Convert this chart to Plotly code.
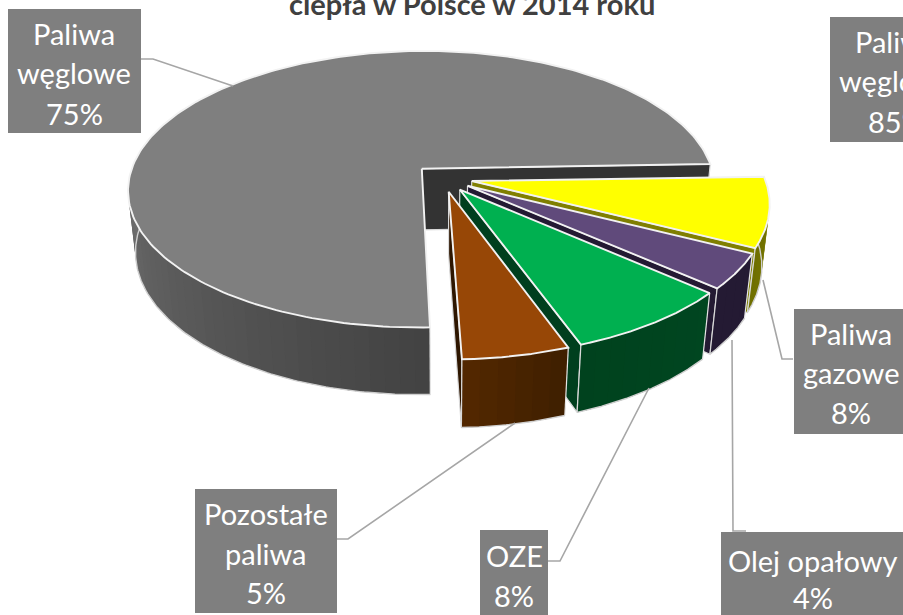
import numpy as np
import plotly.graph_objects as go

# Shares of heat-production fuels, percent, clockwise from the first slice
categories = ["Paliwa węglowe", "Paliwa gazowe", "Olej opałowy", "OZE", "Pozostałe paliwa"]
values = [75, 8, 4, 8, 5]
title_text = "ciepła w Polsce w 2014 roku"

# Styles per slice: top face, radial wall, outer rim at its two ends
top_colors = ["#7f7f7f", "#ffff00", "#604a7b", "#00b050", "#974706"]
wall_colors = ["#333333", "#7f7f00", "#241a33", "#003f1e", "#2e1600"]
rim_from = [(66, 66, 66), (127, 127, 0), (36, 26, 51), (0, 70, 32), (62, 31, 0)]
rim_to = [(124, 124, 124), (110, 110, 0), (36, 26, 51), (0, 66, 30), (84, 40, 0)]

# Perspective model of the pie, in page pixels
CX, CY = 443.0, 178.0
RX, RY = 293.0, 138.0
TILT = 0.15
DEPTH_PX = 63.0
DEPTH_SHRINK = 0.024
START_DEG = 178.0
EXPLODE = 0.10
# The large slice wraps behind itself, so its rim stops once hidden by the top face
LARGE_RIM_SWEEP = 122.0
BAND_OVERLAP_DEG = 1.5


def project(u, v, z):
    s = 1.0 / (1.0 - TILT * v + DEPTH_SHRINK * z)
    return CX + RX * u * s, CY + (RY * v + DEPTH_PX * z) * s


def disc(angle_deg, radius, mid_deg):
    a = np.radians(angle_deg)
    m = np.radians(mid_deg)
    return (radius * np.sin(a) + EXPLODE * np.sin(m),
            -radius * np.cos(a) - EXPLODE * np.cos(m))


fig = go.Figure()


def poly(xs, ys, fill, line=None, width=0.0):
    fig.add_trace(go.Scatter(
        x=list(xs) + [xs[0]], y=list(ys) + [ys[0]], mode="lines", fill="toself",
        fillcolor=fill, line=dict(color=line or fill, width=width),
        hoverinfo="skip", showlegend=False))


def open_line(xs, ys, color, width):
    fig.add_trace(go.Scatter(x=list(xs), y=list(ys), mode="lines",
                             line=dict(color=color, width=width),
                             hoverinfo="skip", showlegend=False))


def mix(c0, c1, t):
    return "rgb(%d,%d,%d)" % tuple(round(p + (q - p) * t) for p, q in zip(c0, c1))


def draw_slice(i, a0, a1, rim_a0, rim_a1, close_rim_end=True):
    mid = (a0 + a1) / 2
    # radial wall along the clockwise end of the slice
    end = a1 % 360
    ax_t, ay_t = project(*disc(0, 0, mid), 0)
    ax_b, ay_b = project(*disc(0, 0, mid), 1)
    ex_t, ey_t = project(*disc(end, 1, mid), 0)
    ex_b, ey_b = project(*disc(end, 1, mid), 1)
    poly([ax_t, ex_t, ex_b, ax_b], [ay_t, ey_t, ey_b, ay_b], wall_colors[i], "#d9d9d9", 1.2)

    # outer rim as narrow overlapping bands, shaded along the arc
    edges = np.linspace(rim_a0, rim_a1, max(3, int(abs(rim_a1 - rim_a0) / 2.5)))
    for k in range(len(edges) - 1):
        b0, b1 = edges[k], min(edges[k + 1] + BAND_OVERLAP_DEG, rim_a1)
        sweep = np.linspace(b0, b1, 5)
        tx, ty = project(*disc(sweep, 1, mid), 0)
        bx, by = project(*disc(sweep, 1, mid), 1)
        t = (k + 0.5) / (len(edges) - 1)
        poly(np.r_[tx, bx[::-1]], np.r_[ty, by[::-1]], mix(rim_from[i], rim_to[i], t))
    sweep = np.linspace(rim_a0, rim_a1, 160)
    bx, by = project(*disc(sweep, 1, mid), 1)
    open_line(bx, by, "#cfcfcf", 1.4)
    # rim end edges
    if close_rim_end:
        sx_t, sy_t = project(*disc(rim_a1, 1, mid), 0)
        sx_b, sy_b = project(*disc(rim_a1, 1, mid), 1)
        open_line([sx_t, sx_b], [sy_t, sy_b], "#d9d9d9", 1.2)
    sx_t, sy_t = project(*disc(rim_a0, 1, mid), 0)
    sx_b, sy_b = project(*disc(rim_a0, 1, mid), 1)
    open_line([sx_t, sx_b], [sy_t, sy_b], "#e6e6e6", 1.2)

    # top face
    sweep = np.linspace(a0, a1, 240)
    ox, oy = project(*disc(sweep, 1, mid), 0)
    poly(np.r_[ax_t, ox], np.r_[ay_t, oy], top_colors[i], "#f2f2f2", 1.9)


# Angular extents from the values
shares = np.array(values, dtype=float) / sum(values) * 360.0
starts = START_DEG + np.r_[0, np.cumsum(shares)[:-1]]
ends = starts + shares

# Large slice first: only its lower-left rim can be seen
draw_slice(0, starts[0], ends[0], starts[0], starts[0] + LARGE_RIM_SWEEP, close_rim_end=False)
# Remaining slices run back to front
for i in range(1, len(values)):
    draw_slice(i, starts[i], ends[i], starts[i], ends[i])

# Callout boxes: x0, x1, y0, y1, centre x, line centres, leader polyline
LABEL_GRAY = "#7f7f7f"
LEADER = "#a6a6a6"
labels = [
    (categories[0], values[0], ["Paliwa", "węglowe"], (8, 141, 9, 133), 74,
     (33, 72, 113), ([141, 153, 233], [59, 59, 86])),
    (categories[1], values[1], ["Paliwa", "gazowe"], (794, 909, 309, 434), 851,
     (333, 372, 412), ([793, 782, 763], [359, 359, 280])),
    (categories[2], values[2], ["Olej opałowy"], (721, 903, 532, 615), 813,
     (560, 597), ([746, 733, 732], [531, 531, 340])),
    (categories[3], values[3], ["OZE"], (480, 548, 530, 615), 514,
     (555, 595), ([548, 560, 649], [561, 561, 388])),
    (categories[4], values[4], ["Pozostałe", "paliwa"], (195, 337, 489, 613), 266,
     (513, 553, 592), ([337, 348, 515], [539, 539, 423])),
]

# Partly cut-off callout belonging to the neighbouring chart
other_label = (["Paliwa", "węglowe", "85%"], (830, 965, 17, 142), 896, (41, 80, 121))

shapes = []
annotations = []


def add_box(box, lines, cx, ys):
    x0, x1, y0, y1 = box
    shapes.append(dict(type="rect", xref="x", yref="y", x0=x0, x1=x1, y0=y0, y1=y1,
                       fillcolor=LABEL_GRAY, line=dict(width=0), layer="above"))
    for text, y in zip(lines, ys):
        annotations.append(dict(x=cx, y=y, xref="x", yref="y", text=text, showarrow=False,
                                xanchor="center", yanchor="middle",
                                font=dict(family="Lato", size=29, color="#ffffff")))


for name, value, lines, box, cx, ys, (lx, ly) in labels:
    open_line(lx, ly, LEADER, 1.6)
    add_box(box, lines + [f"{value}%"], cx, ys)
add_box(other_label[1], other_label[0], other_label[2], other_label[3])

annotations.append(dict(x=471.5, y=3, xref="x", yref="y", text=f"<b>{title_text}</b>", showarrow=False,
                        xanchor="center", yanchor="middle",
                        font=dict(family="Lato", size=29, color="#404040")))

fig.update_layout(
    width=903, height=615, margin=dict(l=0, r=0, t=0, b=0),
    paper_bgcolor="#ffffff", plot_bgcolor="#ffffff", showlegend=False,
    xaxis=dict(range=[0, 903], visible=False, fixedrange=True),
    yaxis=dict(range=[615, 0], visible=False, fixedrange=True),
    shapes=shapes, annotations=annotations,
)

fig.write_html("out.html")
